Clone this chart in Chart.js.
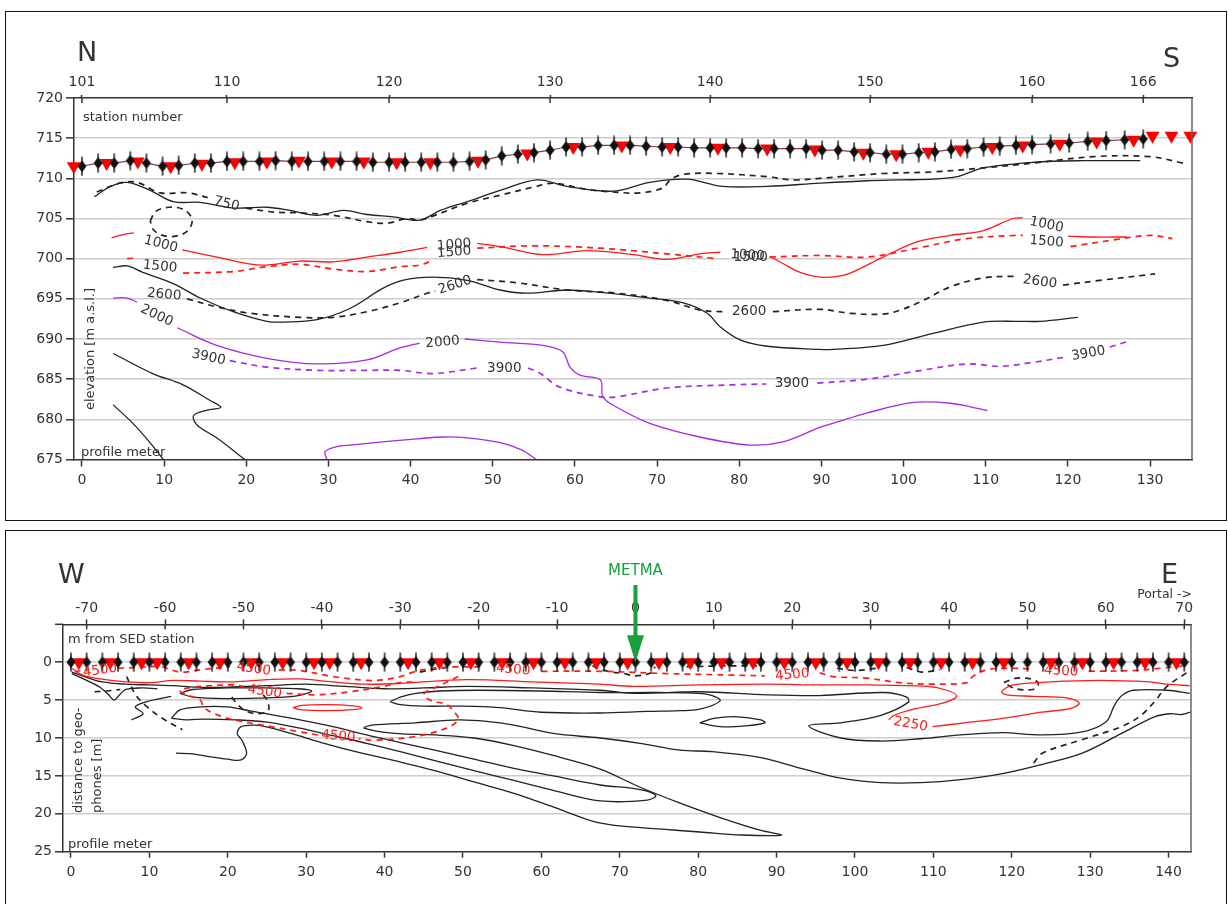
<!DOCTYPE html>
<html>
<head>
<meta charset="utf-8">
<script src="https://cdn.jsdelivr.net/npm/chart.js@4.4.0/dist/chart.umd.min.js"></script>
<style>
  body { margin: 0; background: #fff; }
  #page { position: relative; width: 1228px; height: 904px; overflow: hidden; }
  .frame { position: absolute; border: 1.5px solid #111; box-sizing: border-box; }
  canvas { position: absolute; left: 0; }
</style>
</head>
<body>
<div id="page">
  <div class="frame" style="left:5px;top:11px;width:1222px;height:510px"></div>
  <div class="frame" style="left:5px;top:530px;width:1222px;height:390px"></div>
  <canvas id="topChart" width="1228" height="522" style="top:0;width:1228px;height:522px"></canvas>
  <canvas id="botChart" width="1228" height="379" style="top:525px;width:1228px;height:379px"></canvas>
</div>
<script>
// ---------- top panel (N - S), profile meter vs elevation ----------
const stationTicks = [101, 110, 120, 130, 140, 150, 160, 166];
const stationTickAt = [0, 17.65, 37.37, 56.97, 76.45, 95.92, 115.64, 129.16];
const profileTicksTop = [0, 10, 20, 30, 40, 50, 60, 70, 80, 90, 100, 110, 120, 130];
const elevTicks = [675, 680, 685, 690, 695, 700, 705, 710, 715, 720];

const geoStations = [101, 102, 103, 104, 105, 106, 107, 108, 109, 110, 111, 112, 113, 114, 115, 116, 117,
  118, 119, 120, 121, 122, 123, 124, 125, 126, 127, 128, 129, 130, 131, 132, 133, 134, 135, 136, 137, 138,
  139, 140, 141, 142, 143, 144, 145, 146, 147, 148, 149, 150, 151, 152, 153, 154, 155, 156, 157, 158, 159,
  160, 161, 162, 163, 164, 165, 166];
const geoElev = [711.5, 711.9, 711.9, 712.2, 711.9, 711.5, 711.6, 711.9, 711.9, 712.1, 712.1, 712.1, 712.2,
  712.1, 712.1, 712.1, 712.1, 712.1, 712.0, 712.0, 712.0, 712.0, 712.0, 712.0, 712.1, 712.3, 712.8, 713.0,
  713.2, 713.5, 713.9, 713.9, 714.1, 714.1, 714.1, 714.0, 713.9, 713.9, 713.8, 713.8, 713.8, 713.8, 713.7,
  713.7, 713.7, 713.7, 713.5, 713.5, 713.3, 713.2, 713.0, 713.0, 713.2, 713.3, 713.6, 713.7, 713.9, 714.0,
  714.1, 714.2, 714.3, 714.4, 714.6, 714.7, 714.8, 714.9];

const srcTopAt = [-1.0, 3.0, 6.8, 10.8, 14.6, 18.6, 22.5, 26.4, 30.4, 34.3, 38.3, 42.4, 48.2, 54.2, 59.8,
  65.7, 71.6, 77.4, 83.4, 89.2, 95.1, 99.1, 103.0, 106.9, 110.8, 114.5, 119.0, 123.5, 128.0, 130.3, 132.6, 134.9];
const srcTopElev = [711.5, 711.9, 712.1, 711.5, 711.8, 712.0, 712.1, 712.2, 712.1, 712.1, 712.0, 712.0, 712.2,
  713.1, 713.9, 714.1, 713.9, 713.8, 713.7, 713.6, 713.2, 713.0, 713.3, 713.6, 713.9, 714.1, 714.3, 714.6,
  714.8, 715.3, 715.3, 715.3];

// contour lines, [profile m, elevation m]; null = gap for a label
const c750Solid = [[1.5, 707.7], [3.5, 709.0], [5.5, 709.5], [8.3, 708.5], [11.1, 707.1], [14.4, 707.0],
  [18.4, 706.3], [22.5, 706.4], [25.3, 706.0], [28.6, 705.4], [31.8, 706.0], [34.7, 705.5], [37.9, 705.2],
  [41.1, 704.8], [43.6, 706.0], [46.9, 707.1], [50.9, 708.5], [55.4, 709.8], [59.0, 709.0], [64.6, 708.4],
  [69.1, 709.5], [73.6, 709.9], [78.0, 709.0], [83.4, 709.0], [89.8, 709.4], [95.6, 709.7], [99.6, 709.8],
  [103.6, 709.9], [106.5, 710.2], [109.7, 711.3], [115.8, 712.0], [121.9, 712.2], [128.8, 712.2]];
const c750Dash = [[1.8, 708.3], [4.6, 709.4], [6.7, 709.5], [9.5, 708.2], [12.8, 708.2], [15.3, 707.6], null,
  [20.0, 706.3], [23.3, 705.8], [26.5, 705.7], [30.6, 705.4], [34.7, 704.6], [37.1, 704.4], [39.6, 705.0],
  [41.1, 704.8], [42.7, 705.3], [46.9, 706.9], [50.9, 707.9], [54.9, 708.9], [57.4, 709.4], [61.0, 708.7],
  [64.6, 708.3], [67.9, 708.2], [70.7, 708.8], [71.6, 709.8], [73.2, 710.5], [77.3, 710.6], [83.4, 710.2],
  [86.6, 709.8], [89.8, 710.0], [97.5, 710.6], [103.6, 710.8], [109.7, 711.3], [115.8, 711.9], [123.1, 712.7],
  [130.0, 712.7], [134.0, 711.9]];
const c750Ring = [[8.3, 704.7], [9.0, 705.9], [10.6, 706.4], [12.4, 706.1], [13.4, 704.9], [12.9, 703.5],
  [11.4, 702.8], [9.8, 702.9], [8.7, 703.6], [8.3, 704.7]];
const c1000 = [[3.6, 702.6], [5.0, 703.0], [6.3, 703.2], null, [12.2, 701.1], [16.4, 700.2], [21.7, 699.2],
  [26.5, 699.7], [30.6, 699.6], [34.7, 700.2], [38.7, 700.8], [42.0, 701.4], null, [48.1, 701.9], [50.9, 701.5],
  [56.1, 700.5], [61.5, 701.0], [67.1, 700.5], [71.2, 699.9], [75.2, 700.6], [77.7, 700.8], null, [83.7, 700.3],
  [85.3, 699.4], [87.4, 698.3], [89.8, 697.7], [92.0, 697.8], [93.5, 698.2], [97.5, 700.2], [101.6, 702.1],
  [105.7, 702.9], [109.7, 703.5], [113.3, 705.0], [114.5, 705.1], null, [120.0, 702.8], [123.0, 702.7], [127.2, 702.7]];
const c1500 = [[5.5, 700.0], [6.8, 700.1], null, [12.3, 698.2], [18.4, 698.4], [22.5, 699.0], [26.5, 699.3],
  [30.6, 698.7], [34.7, 698.4], [38.7, 699.0], [41.1, 699.2], [42.7, 699.8], null, [48.1, 701.3], [54.9, 701.6],
  [63.1, 701.3], [71.2, 700.6], [77.3, 700.0], null, [83.7, 700.2], [89.8, 700.4], [95.6, 700.2], [101.6, 701.3],
  [107.7, 702.5], [113.8, 702.9], [114.5, 702.9], null, [120.3, 701.5], [126.0, 702.4], [130.0, 702.9], [132.7, 702.5]];
const c2600Solid = [[3.8, 698.9], [5.5, 699.1], [7.4, 698.3], [11.1, 696.9], [14.4, 695.1], [18.4, 693.4],
  [22.5, 692.2], [24.5, 692.1], [28.6, 692.4], [32.6, 693.8], [36.6, 696.3], [39.0, 697.3], [42.7, 697.7],
  [46.9, 697.3], [50.9, 696.1], [54.2, 695.7], [59.0, 696.1], [63.1, 695.8], [69.1, 695.1], [73.2, 694.5],
  [76.1, 693.2], [77.7, 691.5], [80.1, 689.9], [83.4, 689.1], [89.8, 688.7], [91.4, 688.7], [97.5, 689.2],
  [103.6, 690.7], [109.7, 692.1], [113.8, 692.2], [116.6, 692.2], [121.2, 692.7]];
const c2600Dash = [[12.8, 695.0], [16.4, 694.0], [20.5, 693.2], [26.5, 692.7], [30.6, 692.7], [34.7, 693.4],
  [38.7, 694.5], [42.0, 695.7], [43.0, 696.0], null, [48.1, 697.4], [53.0, 697.0], [59.0, 696.1], [65.1, 695.7],
  [71.2, 694.8], [75.2, 693.6], [77.7, 693.4], [78.4, 693.4], null, [84.1, 693.4], [89.8, 693.7], [93.5, 693.2],
  [97.5, 693.1], [99.6, 693.6], [102.4, 694.8], [105.7, 696.5], [109.7, 697.6], [113.3, 697.8], [114.0, 697.7],
  null, [119.4, 696.7], [123.9, 697.3], [130.6, 698.1]];
const c2000 = [[3.8, 695.1], [5.5, 695.1], [6.7, 694.6], null, [11.6, 691.4], [16.4, 689.2], [22.5, 687.6],
  [28.6, 686.9], [34.7, 687.4], [38.7, 688.9], [41.1, 689.5], null, [46.6, 690.0], [50.9, 689.6], [56.1, 689.2],
  [58.5, 688.4], [59.4, 686.5], [60.6, 685.5], [63.1, 684.9], [63.4, 682.8], [65.1, 681.5], [69.1, 679.5],
  [75.2, 677.8], [81.3, 676.8], [85.3, 677.2], [89.8, 679.0], [91.4, 679.5], [95.6, 680.8], [101.2, 682.1],
  [105.7, 682.0], [110.2, 681.1]];
const c2000Low = [[29.8, 675.0], [29.6, 676.0], [31.0, 676.6], [32.6, 676.8], [41.1, 677.6], [44.0, 677.8],
  [46.9, 677.7], [50.9, 677.1], [53.5, 676.2], [55.3, 675.0]];
const c3900 = [[18.0, 687.3], [22.5, 686.5], [28.6, 686.1], [34.7, 686.1], [38.7, 686.1], [42.7, 685.7],
  [48.1, 686.4], [48.5, 686.4], null, [54.3, 686.4], [55.8, 685.7], [58.2, 684.0], [63.1, 682.8], [65.1, 682.8],
  [71.2, 683.9], [79.2, 684.3], [83.3, 684.4], null, [89.5, 684.5], [95.6, 685.0], [101.6, 686.0], [107.7, 686.9],
  [111.7, 686.6], [115.8, 687.1], [119.4, 687.7], null, [125.1, 689.0], [127.3, 689.7]];
const cLeftA = [[3.8, 688.2], [8.6, 685.7], [12.3, 684.3], [15.5, 682.4], [16.9, 681.5], [15.5, 681.2],
  [13.6, 680.5], [14.0, 679.3], [16.4, 677.7], [19.8, 675.0]];
const cLeftB = [[3.8, 681.8], [6.2, 679.5], [8.2, 677.2], [9.9, 675.0]];

// [text, profile m, elevation m, angle deg]
const topLabels = [["750", 17.6, 706.8, 14], ["1000", 9.6, 701.8, 15], ["1500", 9.5, 699.0, 6],
  ["1000", 45.3, 701.7, -5], ["1500", 45.3, 700.8, -5], ["1000", 81.0, 700.4, 3], ["1500", 81.4, 700.1, 0],
  ["1000", 117.4, 704.2, 12], ["1500", 117.4, 702.1, 5], ["2600", 10.0, 695.5, 5], ["2600", 45.4, 696.7, -18],
  ["2600", 81.2, 693.4, 0], ["2600", 116.6, 697.1, 8], ["2000", 9.1, 692.9, 25], ["2000", 43.9, 689.6, -5],
  ["3900", 15.4, 687.7, 12], ["3900", 51.4, 686.3, 0], ["3900", 86.4, 684.4, 0], ["3900", 122.5, 688.2, -10]];

// ---------- bottom panel (W - E), profile meter vs distance to geophones ----------
const profileTicksBot = [0, 10, 20, 30, 40, 50, 60, 70, 80, 90, 100, 110, 120, 130, 140];
const sedTicks = [-70, -60, -50, -40, -30, -20, -10, 0, 10, 20, 30, 40, 50, 60, 70];
const depthTicks = [0, 5, 10, 15, 20, 25];
const metmaAt = 0;

const geoBottom = [0, 2, 4, 6, 8, 10, 12, 14, 16, 18, 20, 22, 24, 26, 28, 30, 32, 34, 36, 38, 40, 42, 44, 46,
  48, 50, 52, 54, 56, 58, 60, 62, 64, 66, 68, 70, 72, 74, 76, 78, 80, 82, 84, 86, 88, 90, 92, 94, 96, 98, 100,
  102, 104, 106, 108, 110, 112, 114, 116, 118, 120, 122, 124, 126, 128, 130, 132, 134, 136, 138, 140, 142];
const srcBottom = [1, 5, 9, 11, 15, 19, 23, 27, 31, 33, 37, 43, 47, 51, 55, 59, 63, 67, 71, 75, 79, 83, 87, 91,
  95, 99, 103, 107, 111, 115, 119, 125, 129, 133, 137, 141];

const bRedUpper = [[0.1, 0.8], [1.5, 1.7], [3.7, 2.2], [7.1, 2.6], [10.1, 2.7], [13.0, 2.4], [16.5, 2.5],
  [20.7, 2.6], [25.0, 2.3], [29.2, 2.2], [33.4, 2.6], [37.7, 2.9], [42.0, 2.8], [50.5, 2.3], [58.9, 2.6],
  [67.5, 2.9], [71.7, 3.2], [80.2, 3.0], [88.8, 2.9], [95.5, 3.0], [101.5, 3.0], [109.2, 3.2], [111.7, 3.7],
  [113.0, 4.5], [111.2, 5.4], [107.5, 6.2], [105.0, 7.0], [104.3, 7.6], null, [109.9, 8.5], [114.0, 8.0],
  [118.8, 7.4], [123.8, 6.6], [127.5, 6.1], [128.6, 5.4], [127.0, 4.7], [122.7, 4.5], [119.4, 4.3], [118.7, 3.9],
  [120.2, 3.0], [124.9, 2.6], [131.2, 2.4], [137.6, 2.6], [139.8, 2.9], [142.7, 3.1]];
const bRedLens = [[28.3, 6.0], [29.5, 5.7], [32.7, 5.6], [36.0, 5.75], [37.1, 6.0], [36.0, 6.25], [32.7, 6.4],
  [29.5, 6.3], [28.3, 6.0]];
const bRedDashTop = [[0.5, 1.3], [1.2, 1.1], null, [6.0, 0.8], [8.5, 0.7], [11.4, 0.6], [13.9, 1.3], [16.5, 1.0],
  [20.3, 0.6], null, [26.5, 1.0], [29.2, 1.1], [33.4, 1.9], [37.7, 2.4], [40.0, 2.3], [42.0, 1.9], [44.0, 1.2],
  [47.0, 0.7], [52.5, 0.6], null, [60.0, 1.2], [67.5, 1.2], [76.0, 1.5], [84.4, 1.7], [88.5, 1.8], null,
  [95.5, 1.4], [97.2, 1.9], [101.5, 2.1], [105.7, 2.7], [110.0, 2.9], [114.3, 2.7], [115.0, 1.9], [116.8, 1.0],
  [119.4, 0.8], [122.5, 0.9], null, [129.8, 1.2], [135.5, 1.1], [138.9, 0.8], [142.0, 0.5]];
const bRedDashMid = [[49.4, 1.9], [47.2, 3.0], [45.0, 4.2], [45.8, 5.0], [47.9, 5.6], [49.0, 6.7], [49.4, 7.6],
  [47.9, 8.7], [43.9, 9.8], [38.8, 10.3], [36.7, 10.1], null, [31.5, 9.6], [29.2, 9.2], [25.0, 8.4], [20.7, 7.6],
  [18.1, 6.7], [16.9, 5.9], [16.5, 5.0], [14.5, 4.2], [13.9, 3.7], [16.5, 3.2], [20.7, 3.0], [22.0, 3.2], null,
  [27.5, 4.1], [31.4, 4.3], [35.6, 3.9], [39.8, 3.2], [42.0, 2.7], [44.0, 2.6]];

const bBlackUpper = [[0.1, 1.3], [2.0, 2.0], [4.0, 2.6], [7.0, 2.9], [10.0, 3.0], [13.0, 3.1], [16.0, 3.3],
  [20.0, 3.3], [25.0, 3.1], [30.0, 2.9], [35.0, 3.2], [40.0, 3.5], [45.0, 3.4], [50.5, 3.2], [59.0, 3.4],
  [67.5, 3.7], [71.7, 4.1], [80.2, 3.9], [88.8, 4.3], [95.5, 4.4], [103.6, 4.0], [106.6, 4.6], [106.8, 5.3],
  [103.3, 7.0], [98.2, 8.0], [94.1, 8.4], [98.2, 10.0], [103.3, 10.4], [108.4, 10.1], [113.5, 9.6], [118.8, 9.3],
  [123.8, 9.6], [129.0, 9.2], [132.0, 7.9], [133.0, 5.9], [133.5, 5.0], [134.3, 4.2], [135.5, 3.7], [139.8, 3.7],
  [142.7, 4.1]];
const bBlackWedge = [[0.1, 1.5], [2.0, 2.4], [3.7, 3.3], [4.8, 4.3], [5.5, 5.0], [6.2, 4.3], [7.0, 3.6],
  [9.0, 3.4], [11.0, 3.5]];
const bBlackHook = [[7.7, 7.6], [9.2, 6.8], [8.2, 5.9], [9.7, 5.2], [11.4, 4.8], [12.8, 4.5]];
const bBlackLensL = [[13.9, 4.1], [15.5, 3.6], [20.0, 3.4], [25.0, 3.4], [29.0, 3.5], [30.7, 3.8], [29.0, 4.4],
  [25.0, 4.7], [20.0, 4.8], [15.5, 4.6], [13.9, 4.1]];
const bBlackLensM = [[40.7, 5.2], [42.0, 4.6], [44.0, 4.1], [47.0, 3.8], [52.0, 3.7], [60.0, 3.8], [67.5, 4.0],
  [75.0, 4.0], [80.0, 4.1], [81.8, 4.4], [82.8, 5.1], [80.2, 6.2], [77.6, 6.4], [73.5, 6.5], [67.5, 6.7],
  [60.0, 6.6], [54.7, 6.0], [50.0, 5.8], [45.0, 5.8], [42.0, 5.6], [40.7, 5.2]];
const bBlackLensS = [[80.2, 8.0], [82.0, 7.4], [85.0, 7.2], [88.0, 7.6], [88.5, 8.0], [86.0, 8.4], [82.8, 8.5],
  [80.2, 8.0]];
const bBlackInner = [[12.8, 7.4], [13.9, 6.3], [16.5, 5.9], [19.9, 5.9], [23.2, 6.5], [29.2, 7.6], [33.4, 8.5],
  [37.7, 9.6], [42.0, 10.6], [46.4, 11.6], [51.4, 12.8], [56.5, 14.0], [61.5, 15.0], [67.5, 16.2], [72.6, 16.8],
  [74.6, 17.6], [73.5, 18.2], [67.5, 18.3], [61.5, 16.9], [56.5, 15.6], [51.4, 14.3], [46.4, 13.0], [42.0, 11.8],
  [37.7, 10.7], [33.4, 9.7], [29.2, 8.7], [25.0, 7.9], [21.0, 7.6], [17.0, 7.5], [14.8, 7.6], [12.8, 7.4]];
const bBlackLong = [[13.4, 12.0], [15.5, 12.1], [17.2, 12.4], [20.0, 12.8], [21.7, 12.9], [22.4, 12.0],
  [21.8, 10.3], [21.2, 9.4], [21.7, 8.5], [23.5, 8.3], [25.2, 8.6], [28.7, 9.6], [32.3, 10.7], [36.3, 11.8],
  [41.3, 13.0], [46.4, 14.3], [51.4, 15.8], [56.5, 17.3], [61.5, 19.1], [66.6, 21.0], [70.0, 21.6], [75.0, 22.0],
  [80.2, 22.4], [85.5, 22.8], [90.6, 22.8], [88.0, 22.2], [82.8, 20.5], [77.7, 18.6], [72.6, 16.5], [67.5, 14.1],
  [61.5, 12.3], [56.5, 11.0], [51.4, 10.0], [46.4, 9.6], [41.3, 9.4], [37.4, 8.7], [38.4, 8.3], [43.9, 8.0],
  [49.4, 7.6], [53.0, 7.8], [56.5, 8.3], [61.5, 9.4], [67.5, 10.0], [72.6, 10.7], [77.7, 11.6], [81.8, 11.8],
  [88.0, 12.6], [93.1, 14.0], [98.2, 15.3], [103.3, 15.9], [108.4, 15.9], [113.5, 15.5], [118.8, 14.7],
  [123.8, 13.5], [129.0, 12.0], [134.0, 9.4], [138.2, 7.2], [140.2, 6.8], [141.7, 6.9], [143.0, 6.5]];

const bDashA = [[3.0, 3.9], [4.5, 3.8], [6.3, 3.6]];
const bDashB = [[7.1, 1.9], [7.6, 3.0], [8.3, 4.4], [9.6, 5.8], [11.5, 7.3], [14.2, 8.9]];
const bDashC = [[20.5, 4.6], [21.2, 5.5], [22.2, 6.4], [24.0, 6.8], [25.2, 6.3], [25.0, 5.0], [24.5, 4.3]];
const bDashD = [[44.5, 1.3], [46.5, 0.9], [48.7, 0.6]];
const bDashE = [[66.5, 0.5], [68.5, 1.2], [70.5, 1.5], [72.0, 1.8], [74.0, 1.4], [74.5, 0.6]];
const bDashF = [[78.5, 0.6], [83.0, 0.5], [87.5, 0.5]];
const bDashG = [[97.7, 0.8], [100.0, 1.1], [102.8, 0.8]];
const bDashH = [[106.6, 0.7], [108.5, 1.3], [110.8, 1.0]];
const bDashRing = [[119.0, 2.7], [120.6, 2.1], [122.8, 2.3], [123.4, 2.9], [122.7, 3.6], [120.5, 3.5], [119.0, 2.7]];
const bDashDiag = [[122.8, 13.3], [123.9, 12.0], [129.0, 10.2], [134.0, 8.5], [136.5, 7.0], [138.2, 5.2],
  [139.8, 3.2], [142.3, 1.4]];

const botLabels = [["4500", 3.7, 1.1, -8], ["4500", 23.3, 0.9, 8], ["4500", 56.4, 1.0, 5], ["4500", 92.0, 1.7, -5],
  ["4500", 126.3, 1.2, 3], ["4500", 24.7, 3.9, 8], ["4500", 34.1, 9.8, 5], ["2250", 107.1, 8.2, 10]];

// ---------- drawing ----------
const FONT = '"DejaVu Sans", sans-serif';
const INK = '#333';
const GRID = '#cdcdcd';
const RED = '#ff1a1a';
const PURPLE = '#a22de2';
const GREEN = '#17a03c';

function stationToProfile(s) {
  for (let i = 1; i < stationTicks.length; i++) {
    if (s <= stationTicks[i]) {
      const f = (s - stationTicks[i - 1]) / (stationTicks[i] - stationTicks[i - 1]);
      return stationTickAt[i - 1] + f * (stationTickAt[i] - stationTickAt[i - 1]);
    }
  }
  return stationTickAt[stationTickAt.length - 1];
}

function pts(arr) {
  return arr.map(p => p ? { x: p[0], y: p[1] } : { x: NaN, y: NaN });
}

function contour(arr, color, dashed) {
  return {
    data: pts(arr), showLine: true, borderColor: color, borderWidth: dashed ? 1.7 : 1.3,
    borderDash: dashed ? [6, 5] : [], pointRadius: 0, tension: 0.35, fill: false,
    xAxisID: 'x', yAxisID: 'y', order: 2
  };
}

function geophoneGlyph() {
  const c = document.createElement('canvas');
  c.width = 12; c.height = 20;
  const g = c.getContext('2d');
  g.fillStyle = '#111';
  g.beginPath();
  g.moveTo(6, 4); g.lineTo(10.5, 10); g.lineTo(6, 16); g.lineTo(1.5, 10); g.closePath();
  g.fill();
  g.strokeStyle = '#111'; g.lineWidth = 1.4;
  g.beginPath(); g.moveTo(6, 0.5); g.lineTo(6, 19.5); g.stroke();
  return c;
}
const geoGlyph = geophoneGlyph();

function fixedTicks(values) {
  return scale => { scale.ticks = values.map(v => ({ value: v })); };
}

function drawContourLabels(chart, list, color) {
  const ctx = chart.ctx, xs = chart.scales.x, ys = chart.scales.y;
  ctx.save();
  ctx.font = '13.5px ' + FONT;
  ctx.fillStyle = color;
  ctx.textAlign = 'center';
  ctx.textBaseline = 'middle';
  list.forEach(([t, x, y, a]) => {
    ctx.save();
    ctx.translate(xs.getPixelForValue(x), ys.getPixelForValue(y));
    ctx.rotate(a * Math.PI / 180);
    ctx.fillText(t, 0, 0);
    ctx.restore();
  });
  ctx.restore();
}

function text(ctx, s, x, y, size, opts = {}) {
  ctx.save();
  ctx.font = size + 'px ' + FONT;
  ctx.fillStyle = opts.color || INK;
  ctx.textAlign = opts.align || 'left';
  ctx.textBaseline = 'alphabetic';
  if (opts.rotate) {
    ctx.translate(x, y);
    ctx.rotate(opts.rotate);
    ctx.fillText(s, 0, 0);
  } else {
    ctx.fillText(s, x, y);
  }
  ctx.restore();
}

const tickFont = { family: FONT, size: 14 };

// ---- top chart ----
const topDatasets = [
  {
    data: geoStations.map((s, i) => ({ x: stationToProfile(s), y: geoElev[i] })),
    showLine: true, borderColor: '#8a3b3b', borderWidth: 1.2, tension: 0,
    pointStyle: geoGlyph, pointRadius: 6, clip: false, xAxisID: 'x', yAxisID: 'y', order: 0
  },
  {
    data: srcTopAt.map((x, i) => ({ x, y: srcTopElev[i] })),
    showLine: false, pointStyle: 'triangle', rotation: 180, pointRadius: 8,
    backgroundColor: '#ff0000', borderWidth: 0, clip: false, xAxisID: 'x', yAxisID: 'y', order: 1
  },
  contour(c750Solid, '#222', false),
  contour(c750Dash, '#222', true),
  contour(c750Ring, '#222', true),
  contour(c1000, RED, false),
  contour(c1500, RED, true),
  contour(c2600Solid, '#222', false),
  contour(c2600Dash, '#222', true),
  contour(c2000, PURPLE, false),
  contour(c2000Low, PURPLE, false),
  contour(c3900, PURPLE, true),
  contour(cLeftA, '#222', false),
  contour(cLeftB, '#222', false)
];

const topDecor = {
  id: 'topDecor',
  afterDatasetsDraw(chart) {
    drawContourLabels(chart, topLabels, INK);
  },
  afterDraw(chart) {
    const ctx = chart.ctx, a = chart.chartArea, xs = chart.scales.xs;
    ctx.save();
    ctx.strokeStyle = '#666'; ctx.lineWidth = 1.5;
    ctx.beginPath(); ctx.moveTo(a.right, a.top); ctx.lineTo(a.right, a.bottom); ctx.stroke();
    ctx.strokeStyle = INK;
    stationTickAt.forEach(v => {
      const px = xs.getPixelForValue(v);
      ctx.beginPath(); ctx.moveTo(px, a.top); ctx.lineTo(px, a.top + 5); ctx.stroke();
    });
    ctx.restore();
    text(ctx, 'N', 77, 61, 27);
    text(ctx, 'S', 1163, 67, 27);
    text(ctx, 'station number', a.left + 9, a.top + 23, 13);
    text(ctx, 'profile meter', a.left + 7, a.bottom - 4, 13);
    text(ctx, 'elevation [m a.s.l.]', a.left + 20, 349, 13, { align: 'center', rotate: -Math.PI / 2 });
  }
};

new Chart(document.getElementById('topChart'), {
  type: 'scatter',
  data: { datasets: topDatasets },
  options: {
    responsive: false, animation: false, events: [],
    layout: { padding: { left: 0, right: 36, top: 0, bottom: 0 } },
    plugins: { legend: { display: false }, tooltip: { enabled: false } },
    scales: {
      x: {
        type: 'linear', position: 'bottom', min: -0.97, max: 135.1,
        afterBuildTicks: fixedTicks(profileTicksTop),
        afterFit: s => { s.height = 62.5; },
        grid: { drawOnChartArea: false, drawTicks: true, tickLength: 7, tickColor: INK, tickWidth: 1.5 },
        border: { display: true, color: INK, width: 1.5 },
        ticks: { font: tickFont, color: INK, padding: 5, maxRotation: 0, autoSkip: false }
      },
      xs: {
        type: 'linear', position: 'top', min: -0.97, max: 135.1,
        afterBuildTicks: fixedTicks(stationTickAt),
        afterFit: s => { s.height = 98; },
        grid: { drawOnChartArea: false, drawTicks: true, tickLength: 3, tickColor: INK, tickWidth: 1.5 },
        border: { display: true, color: INK, width: 1.5 },
        ticks: { font: tickFont, color: INK, padding: 4, maxRotation: 0, autoSkip: false,
          callback: (v, i) => stationTicks[i] }
      },
      y: {
        type: 'linear', position: 'left', min: 675, max: 720,
        afterBuildTicks: fixedTicks(elevTicks),
        afterFit: s => { s.width = 74; },
        grid: {
          color: c => (c.tick && (c.tick.value === 675 || c.tick.value === 720)) ? 'rgba(0,0,0,0)' : GRID,
          lineWidth: 1.6, tickLength: 8, tickColor: INK, tickWidth: 1.5
        },
        border: { display: true, color: INK, width: 1.5 },
        ticks: { font: tickFont, color: INK, padding: 3 }
      }
    }
  },
  plugins: [topDecor]
});

// ---- bottom chart ----
const botDatasets = [
  {
    data: geoBottom.map(x => ({ x, y: 0 })),
    showLine: false, pointStyle: geoGlyph, pointRadius: 6, clip: false, xAxisID: 'x', yAxisID: 'y', order: 0
  },
  {
    data: srcBottom.map(x => ({ x, y: 0 })),
    showLine: false, pointStyle: 'triangle', rotation: 180, pointRadius: 8,
    backgroundColor: '#ff0000', borderWidth: 0, clip: false, xAxisID: 'x', yAxisID: 'y', order: 1
  },
  contour(bRedUpper, RED, false),
  contour(bRedLens, RED, false),
  contour(bRedDashTop, RED, true),
  contour(bRedDashMid, RED, true),
  contour(bBlackUpper, '#222', false),
  contour(bBlackWedge, '#222', false),
  contour(bBlackHook, '#222', false),
  contour(bBlackLensL, '#222', false),
  contour(bBlackLensM, '#222', false),
  contour(bBlackLensS, '#222', false),
  contour(bBlackInner, '#222', false),
  contour(bBlackLong, '#222', false),
  contour(bDashA, '#222', true),
  contour(bDashB, '#222', true),
  contour(bDashC, '#222', true),
  contour(bDashD, '#222', true),
  contour(bDashE, '#222', true),
  contour(bDashF, '#222', true),
  contour(bDashG, '#222', true),
  contour(bDashH, '#222', true),
  contour(bDashRing, '#222', true),
  contour(bDashDiag, '#222', true)
];

const botDecor = {
  id: 'botDecor',
  afterDatasetsDraw(chart) {
    drawContourLabels(chart, botLabels, RED);
  },
  afterDraw(chart) {
    const ctx = chart.ctx, a = chart.chartArea, xt = chart.scales.xt, ys = chart.scales.y;
    ctx.save();
    ctx.strokeStyle = '#666'; ctx.lineWidth = 1.5;
    ctx.beginPath(); ctx.moveTo(a.right, a.top); ctx.lineTo(a.right, a.bottom); ctx.stroke();
    ctx.strokeStyle = INK;
    ctx.beginPath(); ctx.moveTo(a.left - 8, a.top); ctx.lineTo(a.left, a.top); ctx.stroke();
    sedTicks.forEach(v => {
      const px = xt.getPixelForValue(v);
      ctx.beginPath(); ctx.moveTo(px, a.top); ctx.lineTo(px, a.top + 5); ctx.stroke();
    });
    // METMA arrow
    const mx = xt.getPixelForValue(metmaAt), tip = ys.getPixelForValue(0);
    ctx.strokeStyle = GREEN; ctx.fillStyle = GREEN; ctx.lineWidth = 4;
    ctx.beginPath(); ctx.moveTo(mx, 60); ctx.lineTo(mx, tip - 24); ctx.stroke();
    ctx.beginPath(); ctx.moveTo(mx - 8.5, tip - 27); ctx.lineTo(mx + 8.5, tip - 27); ctx.lineTo(mx, tip); ctx.closePath();
    ctx.fill();
    ctx.restore();
    text(ctx, 'METMA', mx, 50, 15, { align: 'center', color: GREEN });
    text(ctx, 'W', 58, 58, 27);
    text(ctx, 'E', 1161, 58, 27);
    text(ctx, 'Portal ->', 1192, 73, 12.5, { align: 'right' });
    text(ctx, 'm from SED station', a.left + 5, a.top + 19, 13);
    text(ctx, 'profile meter', a.left + 5, a.bottom - 4, 13);
    text(ctx, 'distance to geo-', a.left + 19, 288, 13, { rotate: -Math.PI / 2 });
    text(ctx, 'phones [m]', a.left + 38, 288, 13, { rotate: -Math.PI / 2 });
  }
};

new Chart(document.getElementById('botChart'), {
  type: 'scatter',
  data: { datasets: botDatasets },
  options: {
    responsive: false, animation: false, events: [],
    layout: { padding: { left: 0, right: 37, top: 0, bottom: 0 } },
    plugins: { legend: { display: false }, tooltip: { enabled: false } },
    scales: {
      x: {
        type: 'linear', position: 'bottom', min: -1.02, max: 142.86,
        afterBuildTicks: fixedTicks(profileTicksBot),
        afterFit: s => { s.height = 52.3; },
        grid: { drawOnChartArea: false, drawTicks: true, tickLength: 6, tickColor: INK, tickWidth: 1.5 },
        border: { display: true, color: INK, width: 1.5 },
        ticks: { font: tickFont, color: INK, padding: 6, maxRotation: 0, autoSkip: false }
      },
      xt: {
        type: 'linear', position: 'top', min: -73.02, max: 70.86,
        afterBuildTicks: fixedTicks(sedTicks),
        afterFit: s => { s.height = 99.3; },
        grid: { drawOnChartArea: false, drawTicks: true, tickLength: 5, tickColor: INK, tickWidth: 1.5 },
        border: { display: true, color: INK, width: 1.5 },
        ticks: { font: tickFont, color: INK, padding: 3, maxRotation: 0, autoSkip: false }
      },
      y: {
        type: 'linear', position: 'left', min: -5, max: 25, reverse: true,
        afterBuildTicks: fixedTicks(depthTicks),
        afterFit: s => { s.width = 63; },
        grid: {
          color: c => (c.tick && c.tick.value === 25) ? 'rgba(0,0,0,0)' : GRID,
          lineWidth: 1.6, tickLength: 8, tickColor: INK, tickWidth: 1.5
        },
        border: { display: true, color: INK, width: 1.5 },
        ticks: { font: tickFont, color: INK, padding: 3 }
      }
    }
  },
  plugins: [botDecor]
});
</script>
</body>
</html>
